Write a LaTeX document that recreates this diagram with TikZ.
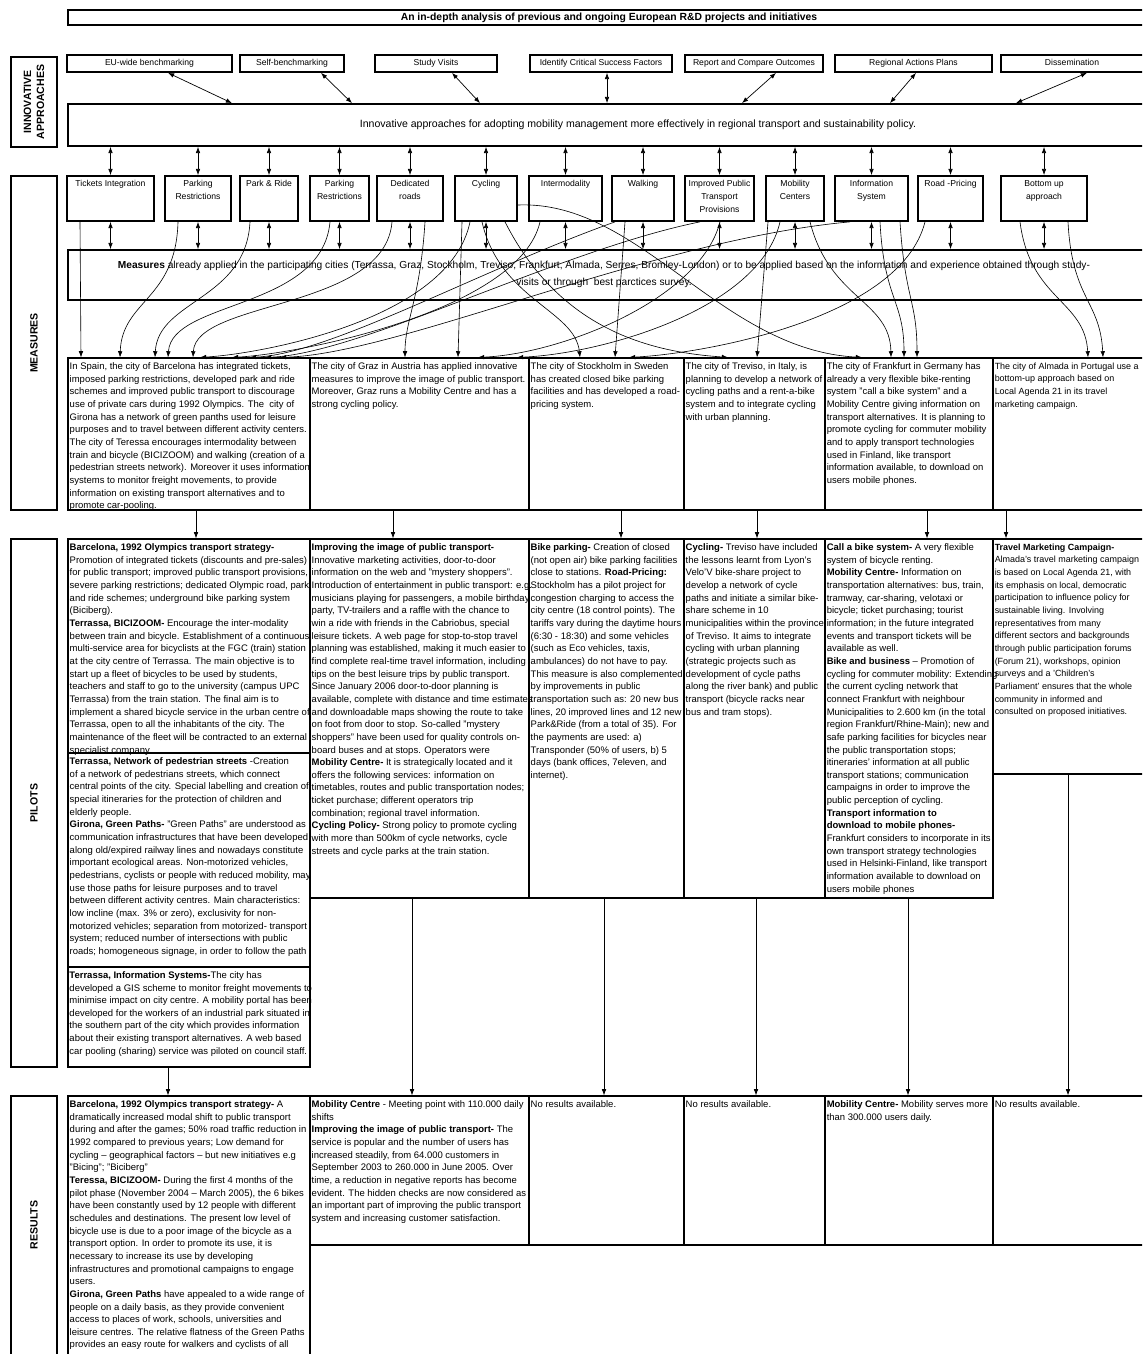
\documentclass[tikz,border=0pt]{standalone}
\usepackage{fontspec}
\setmainfont{Liberation Sans}
\usetikzlibrary{arrows.meta,positioning,fit}

\newcommand{\celltxt}{\fontsize{5.4}{7.2}\selectfont}
\newcommand{\edgetxt}{\fontsize{5.1}{7.2}\selectfont}
\newcommand{\headtxt}{\fontsize{4.9}{7.4}\selectfont}
\newcommand{\bandtxt}{\fontsize{5.8}{9.6}\selectfont}
\newcommand{\titletxt}{\fontsize{5.9}{7}\selectfont\bfseries}
\newcommand{\sidetxt}{\fontsize{6}{7.4}\selectfont\bfseries}

\begin{document}
\begin{tikzpicture}[x=0.02cm, y=-0.02cm,
    cell/.style={draw, line width=0.7pt, inner sep=0pt},
    hbox/.style={draw, line width=1pt, inner sep=0pt},
    side/.style={draw, line width=1.1pt, inner sep=0pt},
    txt/.style={anchor=north west, inner sep=0pt, align=left, font=\celltxt},
    head/.style={anchor=north, inner sep=0pt, align=center, font=\headtxt},
    arr/.style={-{Latex[length=3.5pt,width=2.6pt]}, line width=0.4pt},
    dbl/.style={{Latex[length=3.5pt,width=2.6pt]}-{Latex[length=3.5pt,width=2.6pt]}, line width=0.4pt},
    link/.style={-{Latex[length=3.5pt,width=2.6pt]}, line width=0.35pt}
]
    \useasboundingbox (0,0) rectangle (1142,1354);
    \clip (0,0) rectangle (1142,1354);

    % Title
    \node[cell, fit={(68,10)(1150,25)}] (title) {};
    \node[font=\titletxt, inner sep=0pt] (titletext) at (title.center) {An in-depth analysis of previous and ongoing European R\&D projects and initiatives};

    % Side labels
    \node[side, fit={(11,57)(57,147)}] (lInnov) {};
    \node[font=\sidetxt, rotate=90, align=center] at (lInnov.center) {INNOVATIVE\\APPROACHES};
    \node[side, fit={(11,176)(57,510)}] (lMeas) {};
    \node[font=\sidetxt, rotate=90] at (lMeas.center) {MEASURES};
    \node[side, fit={(11,539)(57,1067)}] (lPilot) {};
    \node[font=\sidetxt, rotate=90] at (lPilot.center) {PILOTS};
    \node[side, fit={(11,1096)(57,1380)}] (lRes) {};
    \node[font=\sidetxt, rotate=90] at (lRes.north |- 0,1225) {RESULTS};

    % Innovative approaches
    \node[hbox, fit={(67,55)(232,72)}] (euBench) {};
    \node[hbox, fit={(240,55)(344,72)}] (selfBench) {};
    \node[hbox, fit={(375,55)(497,72)}] (studyVis) {};
    \node[hbox, fit={(530,55)(672,72)}] (critFact) {};
    \node[hbox, fit={(685,55)(823,72)}] (repOut) {};
    \node[hbox, fit={(835,55)(992,72)}] (regPlans) {};
    \node[hbox, fit={(1001,55)(1150,72)}] (dissem) {};
    \node[head, below=2.5pt of euBench.north] {EU-wide benchmarking};
    \node[head, below=2.5pt of selfBench.north] {Self-benchmarking};
    \node[head, below=2.5pt of studyVis.north] {Study Visits};
    \node[head, below=2.5pt of critFact.north] {Identify Critical Success Factors};
    \node[head, below=2.5pt of repOut.north] {Report and Compare Outcomes};
    \node[head, below=2.5pt of regPlans.north] {Regional Actions Plans};
    \node[head, below=2.5pt of dissem.north, xshift=-0.07cm] {Dissemination};

    \node[hbox, fit={(68,104)(1150,146)}] (innov) {};
    \node[font=\fontsize{6}{7}\selectfont, inner sep=0pt] at (638,125) {Innovative approaches for adopting mobility management more effectively in regional transport and sustainability policy.};

    \draw[dbl] (euBench.south -| 168,0) -- (innov.north -| 232,0);
    \draw[dbl] (selfBench.south -| 321,0) -- (innov.north -| 352,0);
    \draw[dbl] (studyVis.south -| 452,0) -- (innov.north -| 480,0);
    \draw[dbl] (critFact.south -| 607,0) -- (innov.north -| 607,0);
    \draw[dbl] (repOut.south -| 776,0) -- (innov.north -| 742,0);
    \draw[dbl] (regPlans.south -| 916,0) -- (innov.north -| 890,0);
    \draw[dbl] (dissem.south -| 1087,0) -- (innov.north -| 1016,0);

    % Measures
    \node[hbox, fit={(67,176)(154,221)}] (mTick) {};
    \node[hbox, fit={(165,176)(231,221)}] (mPark) {};
    \node[hbox, fit={(240,176)(298,221)}] (mPR) {};
    \node[hbox, fit={(310,176)(369,221)}] (mPark2) {};
    \node[hbox, fit={(377,176)(443,221)}] (mRoads) {};
    \node[hbox, fit={(455,176)(517,221)}] (mCyc) {};
    \node[hbox, fit={(529,176)(602,221)}] (mInter) {};
    \node[hbox, fit={(612,176)(674,221)}] (mWalk) {};
    \node[hbox, fit={(685,176)(754,221)}] (mPT) {};
    \node[hbox, fit={(766,176)(824,221)}] (mMob) {};
    \node[hbox, fit={(835,176)(908,221)}] (mInfo) {};
    \node[hbox, fit={(918,176)(983,221)}] (mRoadPr) {};
    \node[hbox, fit={(1001,176)(1087,221)}] (mBottom) {};
    \node[head, below=3pt of mTick.north] {Tickets Integration};
    \node[head, below=3pt of mPark.north] {Parking\\Restrictions};
    \node[head, below=3pt of mPR.north] {Park \& Ride};
    \node[head, below=3pt of mPark2.north] {Parking\\Restrictions};
    \node[head, below=3pt of mRoads.north] {Dedicated\\roads};
    \node[head, below=3pt of mCyc.north] {Cycling};
    \node[head, below=3pt of mInter.north] {Intermodality};
    \node[head, below=3pt of mWalk.north] {Walking};
    \node[head, below=3pt of mPT.north] {Improved Public\\Transport\\Provisions};
    \node[head, below=3pt of mMob.north] {Mobility\\Centers};
    \node[head, below=3pt of mInfo.north] {Information\\System};
    \node[head, below=3pt of mRoadPr.north] {Road -Pricing};
    \node[head, below=3pt of mBottom.north] {Bottom up\\approach};

    \foreach \m in {mTick,mPark,mPR,mPark2,mRoads,mCyc,mInter,mWalk,mPT,mMob,mInfo,mRoadPr,mBottom}
        \draw[dbl] (innov.south -| \m.north) -- (\m.north);

    \node[hbox, fit={(68,250)(1150,300)}] (meas) {};
    \node[font=\bandtxt, align=center, inner sep=0pt] at (604,274) {\textbf{Measures} already applied in the participating cities (Terrassa, Graz, Stockholm, Treviso, Frankfurt, Almada, Serres, Bromley-London) or to be applied based on the information and experience obtained through study-\\visits or through\ \ best parctices survey.};

    \foreach \m in {mTick,mPark,mPR,mPark2,mRoads,mCyc,mInter,mWalk,mPT,mMob,mInfo,mRoadPr,mBottom}
        \draw[dbl] (\m.south) -- (meas.north -| \m.south);

    % Cities
    \node[cell, fit={(68,358)(310,510)}] (cBar) {};
    \node[cell, fit={(310,358)(529,510)}] (cGraz) {};
    \node[cell, fit={(529,358)(684,510)}] (cSto) {};
    \node[cell, fit={(684,358)(825,510)}] (cTre) {};
    \node[cell, fit={(825,358)(993,510)}] (cFra) {};
    \node[cell, fit={(993,358)(1150,510)}] (cAlm) {};

    \node[txt] at ([shift={(2,5)}]cBar.north west) {In Spain, the city of Barcelona has integrated tickets,\\imposed parking restrictions, developed park and ride\\schemes and improved public transport to discourage\\use of private cars during 1992 Olympics. The\ \ city of\\Girona has a network of green panths used for leisure\\purposes and to travel between different activity centers.\\The city of Teressa encourages intermodality between\\train and bicycle (BICIZOOM) and walking (creation of a\\pedestrian streets network). Moreover it uses information\\systems to monitor freight movements, to provide\\information on existing transport alternatives and to\\promote car-pooling.};
    \node[txt] at ([shift={(2,5)}]cGraz.north west) {The city of Graz in Austria has applied innovative\\measures to improve the image of public transport.\\Moreover, Graz runs a Mobility Centre and has a\\strong cycling policy.};
    \node[txt] at ([shift={(2,5)}]cSto.north west) {The city of Stockholm in Sweden\\has created closed bike parking\\facilities and has developed a road-\\pricing system.};
    \node[txt] at ([shift={(2,5)}]cTre.north west) {The city of Treviso, in Italy, is\\planning to develop a network of\\cycling paths and a rent-a-bike\\system and to integrate cycling\\with urban planning.};
    \node[txt] at ([shift={(2,5)}]cFra.north west) {The city of Frankfurt in Germany has\\already a very flexible bike-renting\\system "call a bike system" and a\\Mobility Centre giving information on\\transport alternatives. It is planning to\\promote cycling for commuter mobility\\and to apply transport technologies\\used in Finland, like transport\\information available, to download on\\users mobile phones.};
    \node[txt, font=\edgetxt] at ([shift={(2,5)}]cAlm.north west) {The city of Almada in Portugal use a\\bottom-up approach based on\\Local Agenda 21 in its travel\\marketing campaign.};

    % Links from measures to cities
    \draw[link] (mTick.south -| 80,0) -- (cBar.north -| 81,0);
    \draw[link] (mPark.south -| 178,0) .. controls (176,300) and (122,300) .. (cBar.north -| 120,0);
    \draw[link] (mPR.south -| 250,0) .. controls (246,300) and (158,300) .. (cBar.north -| 155,0);
    \draw[link] (mPark2.south -| 330,0) .. controls (322,310) and (172,300) .. (cBar.north -| 168,0);
    \draw[link] (mRoads.south -| 392,0) .. controls (385,310) and (196,300) .. (cBar.north -| 193,0);
    \draw[link] (mCyc.south -| 470,0) .. controls (450,320) and (260,354) .. (cBar.north -| 200,0);
    \draw[link] (mInter.south -| 540,0) .. controls (520,310) and (300,354) .. (cBar.north -| 232,0);
    \draw[link] (mWalk.south -| 615,0) .. controls (480,270) and (330,354) .. (cBar.north -| 250,0);
    \draw[link] (mPT.south -| 700,0) .. controls (560,250) and (360,354) .. (cBar.north -| 265,0);
    \draw[link] (mInfo.south -| 850,0) .. controls (650,240) and (400,354) .. (cBar.north -| 280,0);
    \draw[link] (mRoads.south -| 425,0) .. controls (420,300) and (405,320) .. (cGraz.north -| 405,0);
    \draw[link] (mCyc.south -| 462,0) -- (cGraz.north -| 458,0);
    \draw[link] (mPT.south -| 720,0) .. controls (700,300) and (560,354) .. (cGraz.north -| 478,0);
    \draw[link] (mMob.south -| 780,0) .. controls (760,310) and (600,354) .. (cGraz.north -| 517,0);
    \draw[link] (mCyc.south -| 482,0) .. controls (500,300) and (575,310) .. (cSto.north -| 580,0);
    \draw[link] (mWalk.south -| 625,0) -- (cSto.north -| 615,0);
    \draw[link] (mRoadPr.south -| 925,0) .. controls (900,320) and (700,354) .. (cSto.north -| 629,0);
    \draw[link] (mCyc.south -| 505,0) .. controls (560,330) and (650,352) .. (cTre.north -| 728,0);
    \draw[link] (mMob.south -| 768,0) -- (cTre.north -| 757,0);
    \draw[link] (mCyc.east |- 0,205) .. controls (640,200) and (720,350) .. (cFra.north -| 862,0);
    \draw[link] (mMob.south -| 810,0) .. controls (830,300) and (890,300) .. (cFra.north -| 891,0);
    \draw[link] (mInfo.south -| 880,0) .. controls (884,300) and (904,300) .. (cFra.north -| 904,0);
    \draw[link] (mInfo.south -| 900,0) .. controls (905,300) and (917,300) .. (cFra.north -| 917,0);
    \draw[link] (mBottom.south -| 1020,0) .. controls (1030,300) and (1085,300) .. (cAlm.north -| 1088,0);
    \draw[link] (mBottom.south -| 1068,0) .. controls (1072,300) and (1100,300) .. (cAlm.north -| 1103,0);

    % Pilots
    \node[cell, fit={(68,539)(310,753)}] (pBarA) {};
    \node[cell, fit={(68,753)(310,967)}] (pBarB) {};
    \node[cell, line width=1pt, fit={(68,967)(310,1067)}] (pBarC) {};
    \node[cell, fit={(310,539)(529,898)}] (pGraz) {};
    \node[cell, fit={(529,539)(684,898)}] (pSto) {};
    \node[cell, fit={(684,539)(825,898)}] (pTre) {};
    \node[cell, fit={(825,539)(993,898)}] (pFra) {};
    \node[cell, fit={(993,539)(1150,774)}] (pAlm) {};

    \draw[arr] (cBar.south -| 196,0) -- (pBarA.north -| 196,0);
    \draw[arr] (cGraz.south -| 393,0) -- (pGraz.north -| 393,0);
    \draw[arr] (cSto.south -| 621,0) -- (pSto.north -| 621,0);
    \draw[arr] (cTre.south -| 757,0) -- (pTre.north -| 757,0);
    \draw[arr] (cFra.south -| 927,0) -- (pFra.north -| 927,0);
    \draw[arr] (cAlm.south -| 1006,0) -- (pAlm.north -| 1006,0);

    \node[txt] at ([shift={(2,5)}]pBarA.north west) {\textbf{Barcelona, 1992 Olympics transport strategy-}\\Promotion of integrated tickets (discounts and pre-sales)\\for public transport; improved public transport provisions,\\severe parking restrictions; dedicated Olympic road, park\\and ride schemes; underground bike parking system\\(Biciberg).\\\textbf{Terrassa, BICIZOOM-} Encourage the inter-modality\\between train and bicycle. Establishment of a continuous\\multi-service area for bicyclists at the FGC (train) station\\at the city centre of Terrassa. The main objective is to\\start up a fleet of bicycles to be used by students,\\teachers and staff to go to the university (campus UPC\\Terrassa) from the train station. The final aim is to\\implement a shared bicycle service in the urban centre of\\Terrassa, open to all the inhabitants of the city. The\\maintenance of the fleet will be contracted to an external\\specialist company.};
    \node[txt] at ([shift={(2,5)}]pBarB.north west) {\textbf{Terrassa, Network of pedestrian streets} -Creation\\of a network of pedestrians streets, which connect\\central points of the city. Special labelling and creation of\\special itineraries for the protection of children and\\elderly people.\\\textbf{Girona, Green Paths-} "Green Paths" are understood as\\communication infrastructures that have been developed\\along old/expired railway lines and nowadays constitute\\important ecological areas. Non-motorized vehicles,\\pedestrians, cyclists or people with reduced mobility, may\\use those paths for leisure purposes and to travel\\between different activity centres. Main characteristics:\\low incline (max. 3\% or zero), exclusivity for non-\\motorized vehicles; separation from motorized- transport\\system; reduced number of intersections with public\\roads; homogeneous signage, in order to follow the path};
    \node[txt] at ([shift={(2,5)}]pBarC.north west) {\textbf{Terrassa, Information Systems-}The city has\\developed a GIS scheme to monitor freight movements to\\minimise impact on city centre. A mobility portal has been\\developed for the workers of an industrial park situated in\\the southern part of the city which provides information\\about their existing transport alternatives. A web based\\car pooling (sharing) service was piloted on council staff.};
    \node[txt] at ([shift={(2,5)}]pGraz.north west) {\textbf{Improving the image of public transport-}\\Innovative marketing activities, door-to-door\\information on the web and "mystery shoppers".\\Introduction of entertainment in public transport: e.g.\\musicians playing for passengers, a mobile birthday\\party, TV-trailers and a raffle with the chance to\\win a ride with friends in the Cabriobus, special\\leisure tickets. A web page for stop-to-stop travel\\planning was established, making it much easier to\\find complete real-time travel information, including\\tips on the best leisure trips by public transport.\\Since January 2006 door-to-door planning is\\available, complete with distance and time estimates\\and downloadable maps showing the route to take\\on foot from door to stop. So-called "mystery\\shoppers" have been used for quality controls on-\\board buses and at stops. Operators were};
    \node[txt] at ([shift={(2,220)}]pGraz.north west) {\textbf{Mobility Centre-} It is strategically located and it\\offers the following services: information on\\timetables, routes and public transportation nodes;\\ticket purchase; different operators trip\\combination; regional travel information.\\\textbf{Cycling Policy-} Strong policy to promote cycling\\with more than 500km of cycle networks, cycle\\streets and cycle parks at the train station.};
    \node[txt] at ([shift={(2,5)}]pSto.north west) {\textbf{Bike parking-} Creation of closed\\(not open air) bike parking facilities\\close to stations. \textbf{Road-Pricing:}\\Stockholm has a pilot project for\\congestion charging to access the\\city centre (18 control points). The\\tariffs vary during the daytime hours\\(6:30 - 18:30) and some vehicles\\(such as Eco vehicles, taxis,\\ambulances) do not have to pay.\\This measure is also complemented\\by improvements in public\\transportation such as: 20 new bus\\lines, 20 improved lines and 12 new\\Park\&Ride (from a total of 35). For\\the payments are used: a)\\Transponder (50\% of users, b) 5\\days (bank offices, 7eleven, and\\internet).};
    \node[txt] at ([shift={(2,5)}]pTre.north west) {\textbf{Cycling-} Treviso have included\\the lessons learnt from Lyon's\\Velo'V bike-share project to\\develop a network of cycle\\paths and initiate a similar bike-\\share scheme in 10\\municipalities within the province\\of Treviso. It aims to integrate\\cycling with urban planning\\(strategic projects such as\\development of cycle paths\\along the river bank) and public\\transport (bicycle racks near\\bus and tram stops).};
    \node[txt] at ([shift={(2,5)}]pFra.north west) {\textbf{Call a bike system-} A very flexible\\system of bicycle renting.\\\textbf{Mobility Centre-} Information on\\transportation alternatives: bus, train,\\tramway, car-sharing, velotaxi or\\bicycle; ticket purchasing; tourist\\information; in the future integrated\\events and transport tickets will be\\available as well.\\\textbf{Bike and business} -- Promotion of\\cycling for commuter mobility: Extending\\the current cycling network that\\connect Frankfurt with neighbour\\Municipalities to 2.600 km (in the total\\region Frankfurt/Rhine-Main); new and\\safe parking facilities for bicycles near\\the public transportation stops;\\itineraries' information at all public\\transport stations; communication\\campaigns in order to improve the\\public perception of cycling.\\\textbf{Transport information to}\\\textbf{download to mobile phones-}\\Frankfurt considers to incorporate in its\\own transport strategy technologies\\used in Helsinki-Finland, like transport\\information available to download on\\users mobile phones};
    \node[txt, font=\edgetxt] at ([shift={(2,5)}]pAlm.north west) {\textbf{Travel Marketing Campaign-}\\Almada's travel marketing campaign\\is based on Local Agenda 21, with\\its emphasis on local, democratic\\participation to influence policy for\\sustainable living. Involving\\representatives from many\\different sectors and backgrounds\\through public participation forums\\(Forum 21), workshops, opinion\\surveys and a 'Children's\\Parliament' ensures that the whole\\community in informed and\\consulted on proposed initiatives.};

    % Results
    \node[cell, fit={(68,1096)(310,1380)}] (rBar) {};
    \node[cell, fit={(310,1096)(529,1245)}] (rGraz) {};
    \node[cell, fit={(529,1096)(684,1245)}] (rSto) {};
    \node[cell, fit={(684,1096)(825,1245)}] (rTre) {};
    \node[cell, fit={(825,1096)(993,1245)}] (rFra) {};
    \node[cell, fit={(993,1096)(1150,1245)}] (rAlm) {};

    \draw[arr] (pBarC.south -| 168,0) -- (rBar.north -| 168,0);
    \draw[arr] (pGraz.south -| 412,0) -- (rGraz.north -| 412,0);
    \draw[arr] (pSto.south -| 604,0) -- (rSto.north -| 604,0);
    \draw[arr] (pTre.south -| 756,0) -- (rTre.north -| 756,0);
    \draw[arr] (pFra.south -| 908,0) -- (rFra.north -| 908,0);
    \draw[arr] (pAlm.south -| 1068,0) -- (rAlm.north -| 1068,0);

    \node[txt] at ([shift={(2,5)}]rBar.north west) {\textbf{Barcelona, 1992 Olympics transport strategy-} A\\dramatically increased modal shift to public transport\\during and after the games; 50\% road traffic reduction in\\1992 compared to previous years; Low demand for\\cycling -- geographical factors -- but new initiatives e.g\\"Bicing"; "Biciberg"\\\textbf{Teressa, BICIZOOM-} During the first 4 months of the\\pilot phase (November 2004 -- March 2005), the 6 bikes\\have been constantly used by 12 people with different\\schedules and destinations. The present low level of\\bicycle use is due to a poor image of the bicycle as a\\transport option. In order to promote its use, it is\\necessary to increase its use by developing\\infrastructures and promotional campaigns to engage\\users.\\\textbf{Girona, Green Paths} have appealed to a wide range of\\people on a daily basis, as they provide convenient\\access to places of work, schools, universities and\\leisure centres. The relative flatness of the Green Paths\\provides an easy route for walkers and cyclists of all};
    \node[txt] at ([shift={(2,5)}]rGraz.north west) {\textbf{Mobility Centre} - Meeting point with 110.000 daily\\shifts\\\textbf{Improving the image of public transport-} The\\service is popular and the number of users has\\increased steadily, from 64.000 customers in\\September 2003 to 260.000 in June 2005. Over\\time, a reduction in negative reports has become\\evident. The hidden checks are now considered as\\an important part of improving the public transport\\system and increasing customer satisfaction.};
    \node[txt] at ([shift={(2,5)}]rSto.north west) {No results available.};
    \node[txt] at ([shift={(2,5)}]rTre.north west) {No results available.};
    \node[txt] at ([shift={(2,5)}]rFra.north west) {\textbf{Mobility Centre-} Mobility serves more\\than 300.000 users daily.};
    \node[txt] at ([shift={(2,5)}]rAlm.north west) {No results available.};
\end{tikzpicture}
\end{document}
